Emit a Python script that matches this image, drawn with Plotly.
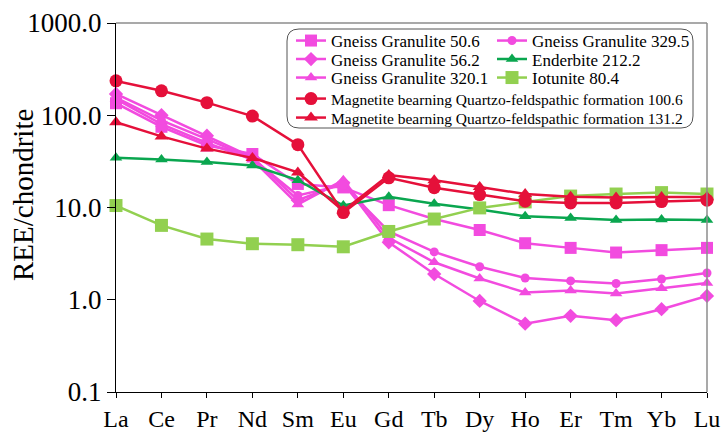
import plotly.graph_objects as go

elements = ["La", "Ce", "Pr", "Nd", "Sm", "Eu", "Gd", "Tb", "Dy", "Ho", "Er", "Tm", "Yb", "Lu"]

gg_50_6 = [135, 75, 47, 38, 18, 16.5, 10.6, 7.5, 5.7, 4.1, 3.65, 3.25, 3.45, 3.65]
gg_56_2 = [170, 100, 60, 35, 12, 18.5, 4.2, 1.9, 0.97, 0.55, 0.67, 0.6, 0.79, 1.1]
gg_320_1 = [150, 80, 50, 33, 10.8, 19.8, 4.7, 2.55, 1.7, 1.2, 1.26, 1.17, 1.33, 1.52]
gg_329_5 = [155, 88, 55, 34, 13.5, 17.5, 5.5, 3.3, 2.28, 1.72, 1.6, 1.5, 1.68, 1.95]
enderbite_212_2 = [34.7, 33.2, 31.1, 28.6, 19.8, 10.5, 13.1, 11.0, 9.5, 8.05, 7.7, 7.3, 7.4, 7.3]
iotunite_80_4 = [10.5, 6.4, 4.55, 4.05, 3.95, 3.75, 5.5, 7.5, 9.9, 11.5, 13.3, 14.0, 14.5, 14.0]
mag_100_6 = [236, 184, 137, 98, 48, 8.8, 21, 16.4, 13.8, 11.7, 11.2, 11.2, 11.6, 12.0]
mag_131_2 = [84, 59, 43.5, 34.5, 24, 9.2, 22.5, 19.7, 16.7, 14.0, 13.1, 12.8, 13.0, 13.0]

y_ticks = [0.1, 1, 10, 100, 1000]
y_tick_text = ["0.1", "1.0", "10.0", "100.0", "1000.0"]

PINK = "#F24BDF"
RED = "#E5103A"
GREEN = "#0AA64F"
LGREEN = "#92D050"

W, H = 721, 432
L, R, T, B = 116, 14, 23, 40
pw, ph = W - L - R, H - T - B


def px(xp):
    return (xp - L) / pw


def py(yp):
    return (H - B - yp) / ph


# (name, values, colour, symbol, size, legend origin x px, legend row centre y px, legend font size)
series = [
    ("Gneiss Granulite 50.6", gg_50_6, PINK, "square", 12, 291, 41, 17),
    ("Gneiss Granulite 56.2", gg_56_2, PINK, "diamond", 11, 291, 59.5, 17),
    ("Gneiss Granulite 320.1", gg_320_1, PINK, "triangle-up", 11, 291, 78, 17),
    ("Gneiss Granulite 329.5", gg_329_5, PINK, "circle", 9, 492, 41, 17),
    ("Enderbite 212.2", enderbite_212_2, GREEN, "triangle-up", 11, 492, 59.5, 17),
    ("Iotunite 80.4", iotunite_80_4, LGREEN, "square", 13, 492, 78, 17),
    ("Magnetite bearning Quartzo-feldspathic formation 100.6", mag_100_6, RED, "circle", 13, 291, 99, 15.5),
    ("Magnetite bearning Quartzo-feldspathic formation 131.2", mag_131_2, RED, "triangle-up", 12, 291, 118, 15.5),
]

fig = go.Figure()
xs = list(range(len(elements)))
legend_layouts = {}
for i, (name, vals, col, sym, size, lx, ly, fs) in enumerate(series):
    key = "legend" if i == 0 else f"legend{i + 1}"
    fig.add_trace(go.Scatter(
        x=xs, y=vals, name=name, mode="lines+markers",
        line=dict(color=col, width=2.5),
        marker=dict(symbol=sym, size=size, color=col, line=dict(width=0)),
        cliponaxis=False, legend=key,
    ))
    legend_layouts[key] = dict(
        x=px(lx), y=py(ly), xanchor="left", yanchor="middle",
        font=dict(family="Liberation Serif", size=fs, color="black"),
        bgcolor="rgba(0,0,0,0)", borderwidth=0, tracegroupgap=0, itemwidth=30,
    )

fig.update_layout(
    width=W, height=H,
    margin=dict(l=L, r=R, t=T, b=B, pad=0, autoexpand=False),
    paper_bgcolor="white", plot_bgcolor="white",
    font=dict(family="Liberation Serif", color="black"),
    showlegend=True,
    **legend_layouts,
    xaxis=dict(
        range=[0, 13], tickvals=xs, ticktext=elements,
        showgrid=False, zeroline=False, showline=True, linecolor="black", linewidth=1,
        ticks="outside", ticklen=5, tickcolor="black",
        tickfont=dict(family="Liberation Serif", size=24, color="black"),
    ),
    yaxis=dict(
        type="log", range=[-1, 3], tickvals=y_ticks, ticktext=y_tick_text,
        showgrid=False, zeroline=False, showline=True, linecolor="black", linewidth=1,
        ticks="outside", ticklen=8, tickcolor="black",
        tickfont=dict(family="Liberation Serif", size=27, color="black"),
    ),
    annotations=[dict(
        text="REE/chondrite", xref="paper", yref="paper",
        x=px(23), y=py(195), textangle=-90, showarrow=False,
        font=dict(family="Liberation Serif", size=29, color="black"),
        xanchor="center", yanchor="middle",
    )],
    shapes=[
        dict(type="line", xref="x domain", yref="y domain", x0=0, x1=1, y0=1, y1=1,
             line=dict(color="#8c8c8c", width=1.5)),
        dict(type="line", xref="x domain", yref="y domain", x0=1, x1=1, y0=0, y1=1,
             line=dict(color="#8c8c8c", width=1.5)),
        dict(type="path", xref="paper", yref="paper", layer="above",
             path=(f"M {px(299)},{py(29)} L {px(681)},{py(29)} "
                   f"Q {px(693)},{py(29)} {px(693)},{py(41)} L {px(693)},{py(116)} "
                   f"Q {px(693)},{py(128)} {px(681)},{py(128)} L {px(299)},{py(128)} "
                   f"Q {px(287)},{py(128)} {px(287)},{py(116)} L {px(287)},{py(41)} "
                   f"Q {px(287)},{py(29)} {px(299)},{py(29)} Z"),
             line=dict(color="#555555", width=1), fillcolor="white"),
    ],
)

fig.write_html("out.html", config={"displayModeBar": False},
               post_script="document.body.style.margin='0';")
